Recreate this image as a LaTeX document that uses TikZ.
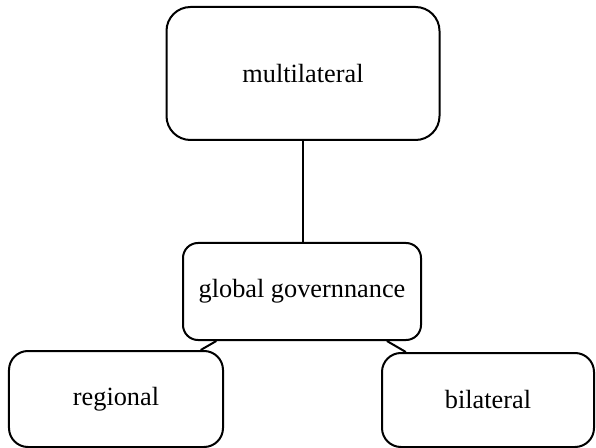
\documentclass[tikz,border=0pt]{standalone}
\usepackage{fontspec}
\setmainfont{Liberation Serif}
\usetikzlibrary{backgrounds}
\begin{document}
\begin{tikzpicture}[x=1bp,y=-1bp,
  box/.style={draw=black, line width=2bp, fill=white, rectangle,
    inner sep=0pt, font=\fontsize{26.3bp}{30bp}\selectfont},
  link/.style={draw=black, line width=2bp}]
  \useasboundingbox (0,0) rectangle (596,448);

  % boxes
  \node[box, rounded corners=24bp, minimum width=273bp, minimum height=133bp]
    (ml) at (303,73.5) {multilateral};
  \node[box, rounded corners=15bp, minimum width=238bp, minimum height=97bp]
    (gg) at (302,291.5) {global governnance};
  \node[box, rounded corners=19bp, minimum width=214bp, minimum height=96bp]
    (rg) at (116,399) {regional};
  \node[box, rounded corners=19bp, minimum width=212bp, minimum height=94bp]
    (bl) at (488,400) {bilateral};

  % white page and connectors, kept behind the boxes
  \begin{scope}[on background layer]
    \fill[white] (0,0) rectangle (596,448);
    \path[link] (ml.south) -- (ml.south |- gg.north);
    \path[link] (gg) -- (rg);
    \path[link] (gg) -- (bl);
  \end{scope}
\end{tikzpicture}
\end{document}
